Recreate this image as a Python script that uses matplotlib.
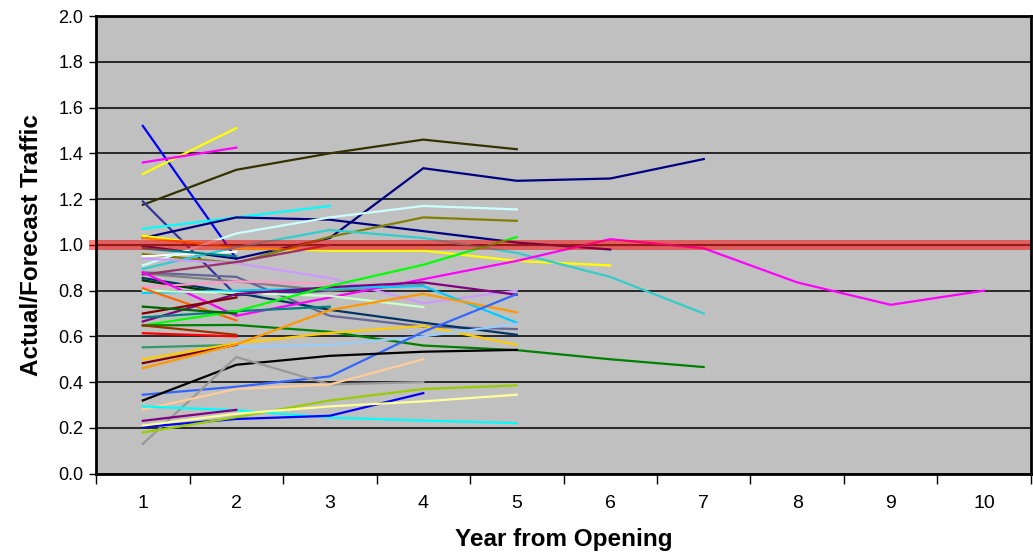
import numpy as np
import matplotlib
matplotlib.use("Agg")
import matplotlib.pyplot as plt
from matplotlib import font_manager

nan = np.nan

# Year from opening
years = list(range(1, 11))
year_labels = [str(y) for y in years]
y_ticks = [0.0, 0.2, 0.4, 0.6, 0.8, 1.0, 1.2, 1.4, 1.6, 1.8, 2.0]

# Actual / forecast traffic ratio per project, one list per project (from year 1)
blue_a = [1.52, 0.94]
yellow_a = [1.31, 1.51]
magenta_a = [1.36, 1.425]
darkolive = [1.175, 1.328, 1.40, 1.46, 1.418]
slate_a = [1.19, 0.78, 0.80]
cyan_a = [1.07, 1.12, 1.17]
navy_a = [1.03, 1.12, 1.11, 1.06, 1.01, 0.98]
navy_b = [0.995, 0.94, 1.03, 1.335, 1.28, 1.29, 1.375]
yellow_b = [1.04, 0.985, 0.975, 0.975, 0.93, 0.91]
orange_a = [1.03, 0.99]
olive = [0.96, 0.92, 1.035, 1.12, 1.105]
white = [0.95, 0.97]
lightcyan = [0.91, 1.05, 1.12, 1.17, 1.155]
turquoise = [0.895, 0.99, 1.065, 1.03, 0.965, 0.86, 0.70]
teal_a = [0.985, 0.95]
lavender = [0.94, 0.92, 0.855, 0.745, 0.80]
gray_a = [0.875, 0.84, 0.80, 0.825]
slateblue = [0.88, 0.86, 0.69, 0.643, 0.632]
plum = [0.87, 0.925, 1.0]
darkslate = [0.855, 0.79, 0.716, 0.66, 0.607]
darkgreen_a = [0.845, 0.78]
pink = [0.815, 0.84, 0.83]
magenta_b = [0.88, 0.69, 0.77, 0.85, 0.93, 1.025, 0.985, 0.836, 0.738, 0.80]
skyblue = [0.79, 0.80, 0.81, 0.82, 0.66]
palegreen = [0.80, 0.79, 0.777, 0.728]
orange_b = [0.81, 0.67]
purple_a = [0.665, 0.785, 0.815, 0.836, 0.782]
darkred_a = [0.70, 0.77]
teal_b = [0.683, 0.71, 0.73]
lime = [0.648, 0.71, 0.82, 0.913, 1.034]
green = [0.648, 0.65, 0.62, 0.56, 0.54, 0.50, 0.466]
brown = [0.648, 0.607]
red = [0.614, 0.60]
seagreen = [0.552, 0.563]
gold = [0.50, 0.57, 0.615, 0.646, 0.563]
darkred_b = [0.483, 0.563]
orange_c = [0.461, 0.565, 0.715, 0.786, 0.705]
lightblue = [nan, 0.553, 0.563, 0.60, 0.655]
royalblue = [0.345, 0.38, 0.425, 0.62, 0.785]
black = [0.32, 0.476, 0.515, 0.533, 0.541]
gray_b = [0.13, 0.51, 0.39, 0.40]
peach = [0.28, 0.37, 0.39, 0.50]
cyan_b = [0.294, 0.277, 0.245, 0.232, 0.221]
purple_b = [0.231, 0.279]
blue_b = [0.204, 0.239, 0.253, 0.352]
yellowgreen = [0.18, 0.247, 0.32, 0.37, 0.386]
paleyellow = [0.21, 0.262, 0.294, 0.316, 0.345]
darkgreen_b = [0.73, 0.70]

series = [
    (blue_a, "#0000FF"), (yellow_a, "#FFFF00"), (magenta_a, "#FF00FF"),
    (darkolive, "#333300"), (slate_a, "#333399"), (cyan_a, "#00FFFF"),
    (navy_a, "#000080"), (navy_b, "#000080"), (yellow_b, "#FFFF00"),
    (orange_a, "#FF8000"), (olive, "#808000"), (white, "#FFFFFF"),
    (lightcyan, "#CCFFFF"), (turquoise, "#33CCCC"), (teal_a, "#008080"),
    (lavender, "#CC99FF"), (gray_a, "#808080"), (slateblue, "#666699"),
    (plum, "#993366"), (darkslate, "#003366"), (darkgreen_a, "#003300"),
    (pink, "#FF99CC"), (magenta_b, "#FF00FF"), (skyblue, "#00CCFF"),
    (palegreen, "#CCFFCC"), (orange_b, "#FF6600"), (purple_a, "#800080"),
    (darkred_a, "#800000"), (teal_b, "#008080"), (lime, "#00FF00"),
    (green, "#008000"), (brown, "#993300"), (red, "#FF0000"),
    (seagreen, "#339966"), (gold, "#FFCC00"), (darkred_b, "#800000"),
    (orange_c, "#FF9900"), (lightblue, "#99CCFF"), (royalblue, "#3366FF"),
    (black, "#000000"), (gray_b, "#999999"), (peach, "#FFCC99"),
    (cyan_b, "#00FFFF"), (purple_b, "#800080"), (blue_b, "#0000FF"),
    (yellowgreen, "#99CC00"), (paleyellow, "#FFFF99"), (darkgreen_b, "#006600"),
]

available = {f.name for f in font_manager.fontManager.ttflist}
narrow = "Liberation Sans Narrow" if "Liberation Sans Narrow" in available else "Liberation Sans"

plt.rcParams["font.family"] = ["Liberation Sans", "DejaVu Sans"]

fig = plt.figure(figsize=(10.33, 5.54), dpi=100)
ax = fig.add_axes([0.093, 0.145, 0.905, 0.826])
ax.set_facecolor("#C0C0C0")

for vals, col in series:
    ax.plot(years[:len(vals)], vals, color=col, lw=1.6, solid_joinstyle="miter", zorder=3)

# Target ratio of 1.0
ax.axhspan(0.978, 1.022, xmin=-0.008, xmax=1.0, color="#FF0000", alpha=0.5, lw=0, zorder=4, clip_on=False)
ax.axhline(1.0, color="#A02020", lw=1.0, alpha=0.7, zorder=4)

ax.set_xlim(0.5, 10.5)
ax.set_ylim(0, 2.0)

ax.set_yticks(y_ticks)
ax.set_yticklabels([f"{t:.1f}" for t in y_ticks], fontsize=13)
ax.yaxis.grid(True, color="#000000", lw=1.1, zorder=1)
ax.set_axisbelow(True)

ax.set_xticks(np.arange(0.5, 11.0, 1.0))
ax.set_xticklabels([])
ax.set_xticks(years, minor=True)
ax.set_xticklabels(year_labels, minor=True, fontsize=14, family=[narrow, "DejaVu Sans"])
ax.tick_params(axis="x", which="major", length=7, width=1, direction="out")
ax.tick_params(axis="x", which="minor", length=0, pad=15)
ax.tick_params(axis="y", length=5, width=1, direction="out", pad=4)

for sp in ax.spines.values():
    sp.set_linewidth(2)
    sp.set_color("#000000")
    sp.set_zorder(6)

ax.set_ylabel("Actual/Forecast Traffic", fontsize=17.5, fontweight="bold", labelpad=11)
ax.set_xlabel("Year from Opening", fontsize=17.5, fontweight="bold", labelpad=12,
              family=[narrow, "DejaVu Sans"])

fig.savefig("out.png", dpi=100, facecolor="white")
